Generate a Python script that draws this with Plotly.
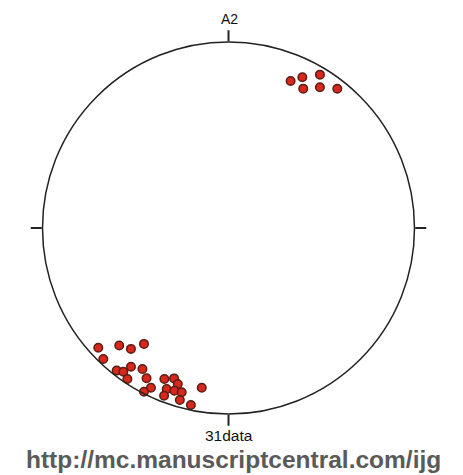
import numpy as np
import plotly.graph_objects as go

# Lower-hemisphere equal-area (Schmidt) stereonet data: trend / plunge in degrees
trend = [227.4, 222.9, 218.9, 216.1, 223.7, 218.1, 216.2, 215.1, 211.4, 213.8,
         208.6, 205.9, 207.3, 203.0, 199.9, 198.0, 201.0, 198.4, 195.9, 201.0,
         195.8, 192.0, 189.5,
         22.9, 26.1, 30.8, 28.2, 33.0, 38.0]
plunge = [5.5, 14.8, 17.6, 23.9, 2.9, 2.9, 4.8, 9.7, 12.2, 2.6,
          8.8, 5.1, 1.1, 12.8, 15.1, 12.8, 8.1, 8.6, 9.0, 3.8,
          4.4, 3.1, 14.0,
          15.3, 10.7, 4.5, 16.1, 10.7, 5.6]

net_label = "A2"
count_label = "31data"
footer = "http://mc.manuscriptcentral.com/ijg"
cardinal_ticks = [0, 90, 180, 270]

# equal-area radial distance (normalised to primitive circle = 1)
r = [np.sqrt(2) * np.sin(np.radians((90 - p) / 2)) for p in plunge]

W, H = 463, 475
cx, cy, R = 228.5, 228.0, 186.0
FONT = "Arial, 'Liberation Sans', sans-serif"

fig = go.Figure()
fig.add_trace(go.Scatterpolar(
    r=r, theta=trend, mode="markers",
    marker=dict(size=8.5, color="#d8281e", line=dict(color="#5a1d12", width=1.5)),
    showlegend=False, hoverinfo="skip"))

fig.update_layout(
    width=W, height=H,
    margin=dict(l=0, r=0, t=0, b=0),
    paper_bgcolor="white",
    polar=dict(
        domain=dict(x=[(cx - R) / W, (cx + R) / W], y=[1 - (cy + R) / H, 1 - (cy - R) / H]),
        bgcolor="white",
        angularaxis=dict(direction="clockwise", rotation=90, tickvals=cardinal_ticks,
                         ticks="outside", ticklen=11, tickwidth=1.5, tickcolor="#222",
                         showticklabels=False, showgrid=False,
                         linecolor="#222", linewidth=1.5, showline=True),
        radialaxis=dict(visible=False, range=[0, 1]),
    ),
    font=dict(family=FONT, color="#111"),
    annotations=[
        dict(text=net_label, x=229 / W, y=1 - 19 / H, xref="paper", yref="paper",
             showarrow=False, xanchor="center", yanchor="middle", font=dict(size=14, color="#111")),
        dict(text=count_label, x=229 / W, y=1 - 435 / H, xref="paper", yref="paper",
             showarrow=False, xanchor="center", yanchor="middle", borderpad=0,
             font=dict(size=15.5, color="#111")),
        dict(text="<b>" + footer + "</b>", x=233.5 / W, y=1 - 459 / H, xref="paper", yref="paper",
             showarrow=False, xanchor="center", yanchor="middle", borderpad=0,
             font=dict(size=24.5, color="#5a5a5a")),
    ],
)
fig.write_html("out.html", config={"displayModeBar": False},
               post_script="document.body.style.margin='0';")
